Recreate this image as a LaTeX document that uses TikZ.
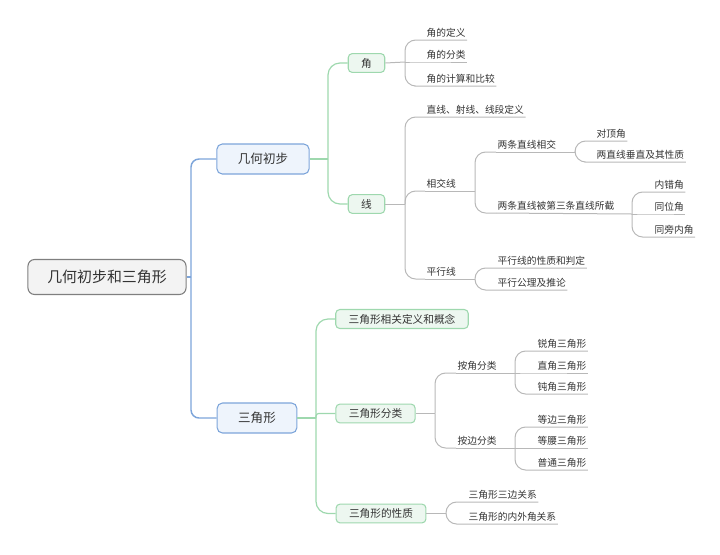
\documentclass[tikz,border=0pt]{standalone}
\usepackage{fontspec}
\newfontfamily\cjk{Noto Sans CJK SC}
\definecolor{txt}{HTML}{333333}
\definecolor{blueL}{HTML}{7DA5DA}
\definecolor{blueF}{HTML}{EEF4FC}
\definecolor{greenL}{HTML}{9ED8AE}
\definecolor{greenF}{HTML}{EDF7F0}
\definecolor{grayL}{HTML}{B8B8B8}
\definecolor{rootF}{HTML}{F3F3F3}
\definecolor{rootD}{HTML}{7F7F7F}

\begin{document}
\begin{tikzpicture}[x=0.75pt,y=-0.75pt,
  root/.style={shape=rectangle,rounded corners=5pt,draw=rootD,fill=rootF,line width=0.8pt,text=txt,font=\cjk\fontsize{11.2pt}{13pt}\selectfont,inner xsep=14.5pt,minimum height=26.25pt},
  topic/.style={shape=rectangle,rounded corners=4pt,draw=blueL,fill=blueF,line width=0.8pt,text=txt,font=\cjk\fontsize{9.4pt}{11pt}\selectfont,inner xsep=15.8pt,minimum height=22.5pt},
  sub/.style={shape=rectangle,rounded corners=3pt,draw=greenL,fill=greenF,line width=0.8pt,text=txt,font=\cjk\fontsize{8pt}{10pt}\selectfont,inner xsep=9.7pt,minimum height=14pt},
  leaf/.style={anchor=south west,inner xsep=1pt,inner ysep=1.6pt,text=txt,font=\cjk\fontsize{7.3pt}{9pt}\selectfont},
  lineB/.style={draw=blueL,line width=1.1pt,rounded corners=6pt},
  lineG/.style={draw=greenL,line width=0.9pt,rounded corners=9pt},
  lineK/.style={draw=grayL,line width=0.75pt,rounded corners=8pt}]
\useasboundingbox (0,0) rectangle (720,554);

% root and main topics
\node[root] (R) at (107,277) {几何初步和三角形};
\node[topic] (GH) at (263,159) {几何初步};
\node[topic] (SJX) at (257,418) {三角形};
\coordinate (jR) at (191,277);
\draw[lineB] (R.east) -- (jR);
\draw[lineB] (jR) |- (GH.west);
\draw[lineB] (jR) |- (SJX.west);

% 几何初步
\node[sub] (J) at (366.5,63) {角};
\node[sub] (X) at (366.5,204) {线};
\coordinate (jGH) at (328,159);
\draw[lineG] (GH.east) -- (jGH);
\draw[lineG] (jGH) |- (J.west);
\draw[lineG] (jGH) |- (X.west);

\node[leaf] (J1) at (425,40) {角的定义};
\node[leaf] (J2) at (425,62) {角的分类};
\node[leaf] (J3) at (425,86) {角的计算和比较};
\coordinate (jJ) at (405,62);
\draw[lineK] (J.east) -- (jJ);
\draw[lineK] (jJ) |- (J1.south west) -- (J1.south east);
\draw[lineK] (jJ) -- (J2.south west) -- (J2.south east);
\draw[lineK] (jJ) |- (J3.south west) -- (J3.south east);

\node[leaf] (X1) at (425,117) {直线、射线、线段定义};
\node[leaf] (X2) at (425,191) {相交线};
\node[leaf] (X3) at (425,279) {平行线};
\coordinate (jX) at (405,204);
\draw[lineK] (X.east) -- (jX);
\draw[lineK] (jX) |- (X1.south west) -- (X1.south east);
\draw[lineK] (jX) |- (X2.south west);
\draw[lineK] (jX) |- (X3.south west);

\coordinate (jX2) at (475,191);
\draw[lineK] (X2.south west) -- (jX2);
\node[leaf] (X21) at (496,152) {两条直线相交};
\node[leaf] (X22) at (496,213) {两条直线被第三条直线所截};
\draw[lineK] (jX2) |- (X21.south west);
\draw[lineK] (jX2) |- (X22.south west);

\coordinate (jX21) at (575,152);
\draw[lineK] (X21.south west) -- (jX21);
\node[leaf] (X211) at (595,141) {对顶角};
\node[leaf] (X212) at (595,162) {两直线垂直及其性质};
\draw[lineK] (jX21) |- (X211.south west) -- (X211.south east);
\draw[lineK] (jX21) |- (X212.south west) -- (X212.south east);

\coordinate (jX22) at (632,214);
\draw[lineK] (X22.south west) -- (jX22);
\node[leaf] (X221) at (653,192) {内错角};
\node[leaf] (X222) at (653,214) {同位角};
\node[leaf] (X223) at (653,237) {同旁内角};
\draw[lineK] (jX22) |- (X221.south west) -- (X221.south east);
\draw[lineK] (jX22) -- (X222.south west) -- (X222.south east);
\draw[lineK] (jX22) |- (X223.south west) -- (X223.south east);

\coordinate (jX3) at (475,279);
\draw[lineK] (X3.south west) -- (jX3);
\node[leaf] (X31) at (496,268) {平行线的性质和判定};
\node[leaf] (X32) at (496,290) {平行公理及推论};
\draw[lineK] (jX3) |- (X31.south west) -- (X31.south east);
\draw[lineK] (jX3) |- (X32.south west) -- (X32.south east);

% 三角形
\node[sub] (T1) at (402,319) {三角形相关定义和概念};
\node[sub] (T2) at (375.5,413.5) {三角形分类};
\node[sub] (T3) at (381,513.5) {三角形的性质};
\coordinate (jSJX) at (316,418);
\draw[lineG] (SJX.east) -- (jSJX);
\draw[lineG] (jSJX) |- (T1.west);
\draw[lineG,rounded corners=2pt] (jSJX) |- (T2.west);
\draw[lineG] (jSJX) |- (T3.west);

\coordinate (jT2) at (435,413.5);
\draw[lineK] (T2.east) -- (jT2);
\node[leaf] (T21) at (456,373) {按角分类};
\node[leaf] (T22) at (456,448) {按边分类};
\draw[lineK] (jT2) |- (T21.south west);
\draw[lineK] (jT2) |- (T22.south west);

\coordinate (jT21) at (515,373);
\draw[lineK] (T21.south west) -- (jT21);
\node[leaf] (T211) at (536,351) {锐角三角形};
\node[leaf] (T212) at (536,373) {直角三角形};
\node[leaf] (T213) at (536,394) {钝角三角形};
\draw[lineK] (jT21) |- (T211.south west) -- (T211.south east);
\draw[lineK] (jT21) -- (T212.south west) -- (T212.south east);
\draw[lineK] (jT21) |- (T213.south west) -- (T213.south east);

\coordinate (jT22) at (515,448);
\draw[lineK] (T22.south west) -- (jT22);
\node[leaf] (T221) at (536,427) {等边三角形};
\node[leaf] (T222) at (536,448) {等腰三角形};
\node[leaf] (T223) at (536,470) {普通三角形};
\draw[lineK] (jT22) |- (T221.south west) -- (T221.south east);
\draw[lineK] (jT22) -- (T222.south west) -- (T222.south east);
\draw[lineK] (jT22) |- (T223.south west) -- (T223.south east);

\coordinate (jT3) at (446,513.5);
\draw[lineK] (T3.east) -- (jT3);
\node[leaf] (T31) at (467,502) {三角形三边关系};
\node[leaf] (T32) at (467,524) {三角形的内外角关系};
\draw[lineK] (jT3) |- (T31.south west) -- (T31.south east);
\draw[lineK] (jT3) |- (T32.south west) -- (T32.south east);
\end{tikzpicture}
\end{document}
